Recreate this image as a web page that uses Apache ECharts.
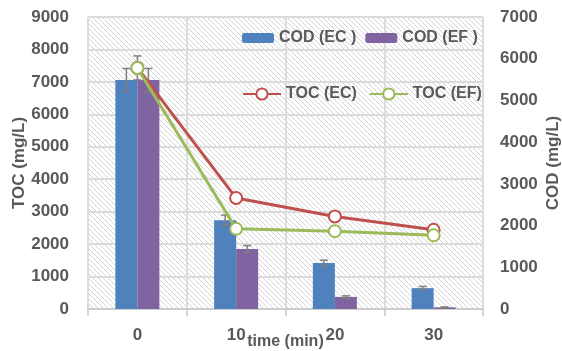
<!DOCTYPE html>
<html>
<head>
<meta charset="utf-8">
<script src="https://cdn.jsdelivr.net/npm/echarts@6/dist/echarts.min.js"></script>
<style>
  html, body { margin: 0; padding: 0; background: #fff; }
  #main { width: 562px; height: 351px; }
</style>
</head>
<body>
<div id="main"></div>
<script>
var times = ['0', '10', '20', '30'];
// COD bars (mg/L), right axis
var codEC = [5490, 2130, 1100, 500];
var codEF = [5490, 1440, 290, 40];
var codECErr = [276, 120, 70, 40];
var codEFErr = [276, 80, 25, 10];
// TOC lines (mg/L), left axis
var tocEC = [7430, 3420, 2850, 2440];
var tocEF = [7430, 2470, 2400, 2270];
var tocEFErr = [370, 0, 0, 0];

var FONT = "'Liberation Sans', Arial, sans-serif";
var TXT = '#595959';

// diagonal hatch for plot background
function hatch() {
    var s = 5;
    var c = document.createElement('canvas');
    c.width = s; c.height = s;
    var ctx = c.getContext('2d');
    ctx.fillStyle = '#ffffff';
    ctx.fillRect(0, 0, s, s);
    ctx.strokeStyle = '#d4d4d4';
    ctx.lineWidth = 1;
    ctx.beginPath();
    ctx.moveTo(0, 0); ctx.lineTo(s, s);
    ctx.moveTo(-1, s - 1); ctx.lineTo(1, s + 1);
    ctx.moveTo(s - 1, -1); ctx.lineTo(s + 1, 1);
    ctx.stroke();
    return c;
}

function errData(vals, errs) {
    return vals.map(function (v, i) {
        return [i, v - errs[i], v + errs[i]];
    });
}

function errRender(dx) {
    return function (params, api) {
        var lo = api.value(1), hi = api.value(2);
        if (hi === lo) return;
        var a = api.coord([api.value(0), hi]);
        var b = api.coord([api.value(0), lo]);
        var x = a[0] + dx, w = 4;
        var st = { stroke: '#7f7f7f', lineWidth: 1.5 };
        return {
            type: 'group',
            children: [
                { type: 'line', shape: { x1: x, y1: a[1], x2: x, y2: b[1] }, style: st },
                { type: 'line', shape: { x1: x - w, y1: a[1], x2: x + w, y2: a[1] }, style: st },
                { type: 'line', shape: { x1: x - w, y1: b[1], x2: x + w, y2: b[1] }, style: st }
            ]
        };
    };
}

var chart = echarts.init(document.getElementById('main'));

var plain = function (v) { return String(v); };
var axisLabel = { color: TXT, fontFamily: FONT, fontWeight: 'bold', fontSize: 17, formatter: plain };
var axisName = { color: TXT, fontFamily: FONT, fontWeight: 'bold', fontSize: 17 };

var option = {
    animation: false,
    grid: {
        left: 88, right: 79, top: 17, bottom: 42,
        outerBoundsMode: 'none',
        show: true,
        borderWidth: 0,
        backgroundColor: { image: hatch(), repeat: 'repeat' }
    },
    legend: [{
        data: ['COD (EC )', 'COD (EF )'],
        left: 237, top: 25,
        itemWidth: 32, itemHeight: 10, itemGap: 9,
        textStyle: { color: TXT, fontFamily: FONT, fontWeight: 'bold', fontSize: 16 }
    }, {
        data: ['TOC (EC)', 'TOC (EF)'],
        left: 237, top: 81,
        itemWidth: 38, itemHeight: 14, itemGap: 12,
        textStyle: { color: TXT, fontFamily: FONT, fontWeight: 'bold', fontSize: 16 }
    }],
    xAxis: {
        type: 'category',
        data: times,
        boundaryGap: true,
        name: 'time (min)',
        nameLocation: 'middle',
        nameGap: 25,
        nameMoveOverlap: false,
        nameTextStyle: { color: TXT, fontFamily: FONT, fontWeight: 'bold', fontSize: 16 },
        axisLine: { lineStyle: { color: '#c8c8c8', width: 1.5 } },
        axisTick: { show: true, length: 7, lineStyle: { color: '#c8c8c8', width: 1.5 } },
        axisLabel: { color: TXT, fontFamily: FONT, fontWeight: 'bold', fontSize: 17, margin: 18 },
        splitLine: { show: true, lineStyle: { color: '#dcdcdc', width: 2 } }
    },
    yAxis: [{
        type: 'value',
        min: 0, max: 9000, interval: 1000,
        name: 'TOC (mg/L)',
        nameLocation: 'middle',
        nameRotate: 90,
        nameGap: 60,
        nameMoveOverlap: false,
        nameTextStyle: axisName,
        axisLine: { show: false },
        axisTick: { show: false },
        axisLabel: Object.assign({ margin: 19 }, axisLabel),
        splitLine: { lineStyle: { color: '#dcdcdc', width: 2 } }
    }, {
        type: 'value',
        min: 0, max: 7000, interval: 1000,
        name: 'COD (mg/L)',
        nameLocation: 'middle',
        nameRotate: 90,
        nameGap: 62,
        nameMoveOverlap: false,
        nameTextStyle: axisName,
        axisLine: { show: false },
        axisTick: { show: false },
        axisLabel: Object.assign({ margin: 17 }, axisLabel),
        splitLine: { show: false }
    }],
    series: [{
        name: 'COD (EC )',
        type: 'bar',
        yAxisIndex: 1,
        data: codEC,
        barWidth: 22,
        barGap: '0%',
        itemStyle: { color: '#4f81bd' }
    }, {
        name: 'COD (EF )',
        type: 'bar',
        yAxisIndex: 1,
        data: codEF,
        barWidth: 22,
        itemStyle: { color: '#8064a2' }
    }, {
        type: 'custom',
        yAxisIndex: 1,
        renderItem: errRender(-11),
        data: errData(codEC, codECErr),
        encode: { x: 0, y: [1, 2] },
        z: 3
    }, {
        type: 'custom',
        yAxisIndex: 1,
        renderItem: errRender(11),
        data: errData(codEF, codEFErr),
        encode: { x: 0, y: [1, 2] },
        z: 3
    }, {
        type: 'custom',
        yAxisIndex: 0,
        renderItem: errRender(0),
        data: errData(tocEF, tocEFErr),
        encode: { x: 0, y: [1, 2] },
        z: 3
    }, {
        name: 'TOC (EC)',
        type: 'line',
        yAxisIndex: 0,
        data: tocEC,
        symbol: 'circle',
        symbolSize: 12,
        lineStyle: { color: '#c0504d', width: 3 },
        itemStyle: { color: '#ffffff', borderColor: '#c0504d', borderWidth: 2 },
        z: 4
    }, {
        name: 'TOC (EF)',
        type: 'line',
        yAxisIndex: 0,
        data: tocEF,
        symbol: 'circle',
        symbolSize: 12,
        lineStyle: { color: '#9bbb59', width: 3 },
        itemStyle: { color: '#ffffff', borderColor: '#9bbb59', borderWidth: 2 },
        z: 5
    }]
};

chart.setOption(option);
</script>
</body>
</html>
